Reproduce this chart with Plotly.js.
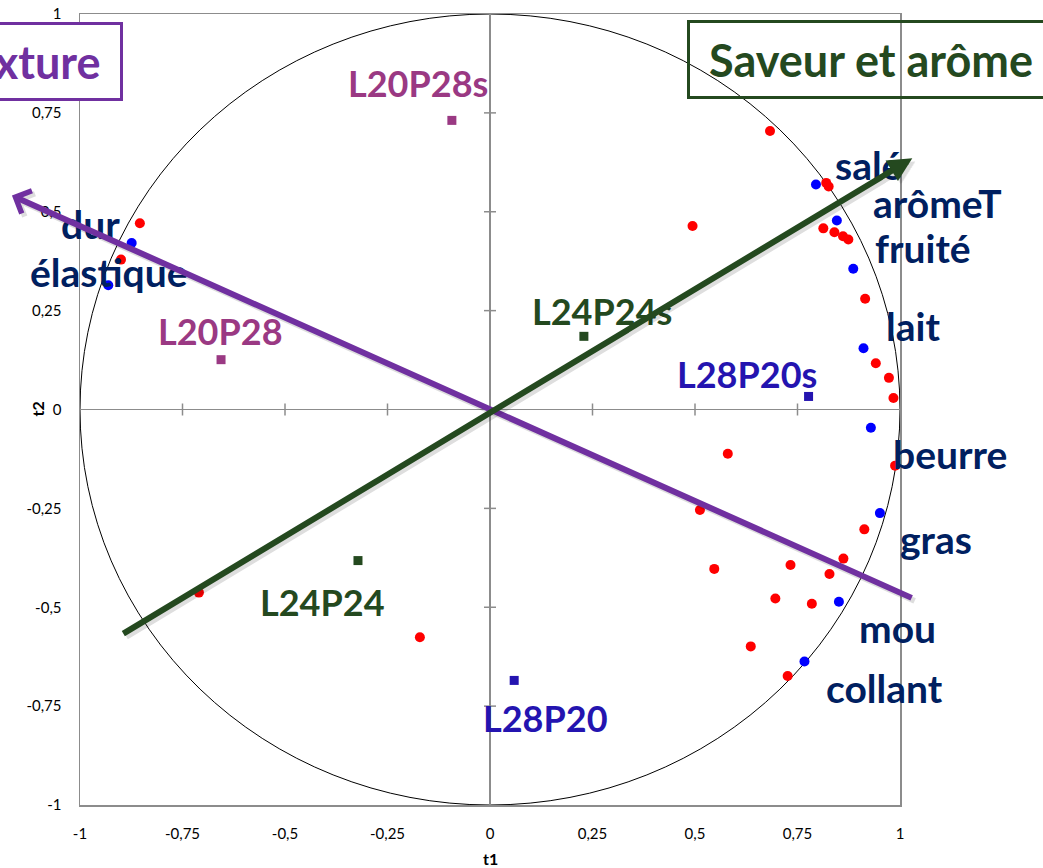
<!DOCTYPE html>
<html>
<head>
<meta charset="utf-8">
<script src="https://cdn.plot.ly/plotly-3.0.1.min.js"></script>
<style>html,body{margin:0;padding:0;background:#fff}</style>
</head>
<body>
<div id="chart" style="width:1043px;height:868px"></div>
<script>
// Individual (red) observations on the correlation circle
const otherX = [0.683, 0.820, 0.826, 0.494, 0.813, 0.840, 0.861, 0.874, 0.915, 0.941,
                0.973, 0.984, 0.580, 0.988, 0.512, 0.913, 0.862, 0.547, 0.733, 0.828,
                0.696, 0.785, 0.636, 0.726, -0.854, -0.900, -0.171, -0.710];
const otherY = [0.704, 0.573, 0.564, 0.464, 0.458, 0.448, 0.438, 0.430, 0.280, 0.117,
                0.080, 0.029, -0.112, -0.142, -0.254, -0.303, -0.377, -0.403, -0.393, -0.416,
                -0.478, -0.491, -0.599, -0.674, 0.471, 0.379, -0.576, -0.463];

// Sensory descriptors (blue)
const descNames = ['salé', 'arômeT', 'fruité', 'lait', 'beurre', 'gras', 'mou', 'collant', 'dur', 'élastique'];
const descX = [0.795, 0.846, 0.886, 0.911, 0.929, 0.951, 0.851, 0.767, -0.874, -0.931];
const descY = [0.569, 0.478, 0.356, 0.155, -0.046, -0.262, -0.486, -0.637, 0.421, 0.314];

// Products (squares)
const sampleNames = ['L20P28s', 'L20P28', 'L24P24s', 'L24P24', 'L28P20s', 'L28P20'];
const sampleX = [-0.093, -0.656, 0.229, -0.322, 0.777, 0.059];
const sampleY = [0.731, 0.126, 0.185, -0.382, 0.033, -0.685];

// Axis ticks
const tickVals = [-1, -0.75, -0.5, -0.25, 0, 0.25, 0.5, 0.75, 1];
const tickText = ['-1', '-0,75', '-0,5', '-0,25', '0', '0,25', '0,5', '0,75', '1'];

// Interpretation axes: name, head and tail of each arrow
const dimNames = ['Texture', 'Saveur et arôme'];
const dimHeadX = [-1.166, 1.030];
const dimHeadY = [0.541, 0.635];
const dimTailX = [1.032, -0.898];
const dimTailY = [-0.478, -0.569];

// ---- styling ----
const W = 1043, H = 868;
const M = {l: 80, r: 143, t: 14, b: 63};
const PW = W - M.l - M.r, PH = H - M.t - M.b;
const FONT = 'Lato, Carlito, Calibri, sans-serif';
const NAVY = '#002060';
const PURPLE = '#7030A0';
const GREEN = '#24491F';
const groupColor = {L20P28: '#9A3983', L24P24: '#24491F', L28P20: '#2414B0'};
const sampleColors = sampleNames.map(n => groupColor[n.replace(/s$/, '')]);

// label placement (pixel offsets from the marker)
const descOffsets = [[53, -19], [101, -17], [70, -21], [49, -22], [79, 26], [56, 26], [59, 26], [80, 27], [-41, -19], [1, -13]];
const sampleOffsets = [[-34, -37], [-1, -29], [18, -25], [-35, 41], [-62, -22], [31, 38]];

const toPaperX = x => (x + 1) / 2;
const toPaperY = y => (y + 1) / 2;

const traces = [
  {x: otherX, y: otherY, type: 'scatter', mode: 'markers',
   marker: {color: '#FF0000', size: 10}, hoverinfo: 'skip'},
  {x: descX, y: descY, type: 'scatter', mode: 'markers',
   marker: {color: '#0000FF', size: 10}, hoverinfo: 'skip'},
  {x: sampleX, y: sampleY, type: 'scatter', mode: 'markers',
   marker: {color: sampleColors, size: 9, symbol: 'square'}, hoverinfo: 'skip'}
];

const shapes = [
  {type: 'circle', xref: 'x', yref: 'y', x0: -1, x1: 1, y0: -1, y1: 1,
   line: {color: '#000', width: 1}, layer: 'below'}
];
// cross ticks on the axes through the origin
tickVals.filter(v => v !== 0 && Math.abs(v) !== 1).forEach(v => {
  shapes.push({type: 'line', xref: 'x', yref: 'y', x0: v, x1: v, ysizemode: 'pixel', yanchor: 0,
               y0: -6, y1: 6, line: {color: '#8c8c8c', width: 1.5}, layer: 'below'});
  shapes.push({type: 'line', xref: 'x', yref: 'y', y0: v, y1: v, xsizemode: 'pixel', xanchor: 0,
               x0: -6, x1: 6, line: {color: '#8c8c8c', width: 1.5}, layer: 'below'});
});

const annotations = [];
const label = (x, y, dx, dy, text, size, color) => ({
  xref: 'paper', yref: 'paper', x: x, y: y, xanchor: 'center', yanchor: 'middle',
  xshift: dx, yshift: -dy, text: text, showarrow: false,
  font: {family: FONT, size: size, color: color, weight: 700}
});
descNames.forEach((n, i) => {
  annotations.push(label(toPaperX(descX[i]), toPaperY(descY[i]), descOffsets[i][0], descOffsets[i][1], n, 39, NAVY));
});
sampleNames.forEach((n, i) => {
  annotations.push(label(toPaperX(sampleX[i]), toPaperY(sampleY[i]), sampleOffsets[i][0], sampleOffsets[i][1], n, 36, sampleColors[i]));
});

// axis titles
annotations.push(label(0.5, 0, 0, 53, 't1', 16, '#000'));
annotations.push(Object.assign(label(0, 0.5, -43, 0, 't2', 16, '#000'), {textangle: -90}));

// interpretation arrows (shadow then line)
const dimColors = [PURPLE, GREEN];
const dimHeads = [4, 2];
dimNames.forEach((n, i) => {
  const ax = (dimTailX[i] - dimHeadX[i]) * PW / 2;
  const ay = -(dimTailY[i] - dimHeadY[i]) * PH / 2;
  [['rgba(0,0,0,0.13)', 3, -3], [dimColors[i], 0, 0]].forEach(([c, sx, sy]) => {
    annotations.push({xref: 'paper', yref: 'paper', x: toPaperX(dimHeadX[i]), y: toPaperY(dimHeadY[i]),
      ax: ax, ay: ay, axref: 'pixel', ayref: 'pixel', text: '', showarrow: true,
      xshift: sx, yshift: sy,
      arrowhead: dimHeads[i], arrowsize: 0.8, arrowwidth: 6, arrowcolor: c, standoff: 0, startstandoff: 0});
  });
});

// boxed axis names
annotations.push({xref: 'paper', yref: 'paper', x: (123 - M.l) / PW, xanchor: 'right',
  y: 1 - (61.5 - M.t) / PH, yanchor: 'middle', text: dimNames[0], showarrow: false,
  width: 190, height: 73, align: 'center', valign: 'middle', borderpad: 0,
  bgcolor: '#fff', bordercolor: PURPLE, borderwidth: 3,
  font: {family: FONT, size: 45, color: PURPLE, weight: 700}});
annotations.push({xref: 'paper', yref: 'paper', x: (687 - M.l) / PW, xanchor: 'left',
  y: 1 - (59.5 - M.t) / PH, yanchor: 'middle', text: dimNames[1], showarrow: false,
  width: 362, height: 73, align: 'center', valign: 'middle', borderpad: 0,
  bgcolor: 'rgba(255,255,255,0)', bordercolor: GREEN, borderwidth: 3,
  font: {family: FONT, size: 45, color: GREEN, weight: 700}});

const axisCommon = {
  range: [-1, 1], tickvals: tickVals, ticktext: tickText,
  showgrid: false, zeroline: true, zerolinecolor: '#8c8c8c', zerolinewidth: 1.5,
  showline: true, mirror: true, linecolor: '#8c8c8c', linewidth: 1.5,
  ticks: 'outside', ticklen: 14, tickcolor: 'rgba(0,0,0,0)',
  tickfont: {family: FONT, size: 15, color: '#000'}, fixedrange: true
};

const layout = {
  width: W, height: H, margin: M, showlegend: false,
  paper_bgcolor: '#fff', plot_bgcolor: '#fff',
  xaxis: Object.assign({}, axisCommon),
  yaxis: Object.assign({}, axisCommon),
  shapes: shapes, annotations: annotations, hovermode: false
};

Plotly.newPlot('chart', traces, layout, {staticPlot: true, displayModeBar: false});
</script>
</body>
</html>
